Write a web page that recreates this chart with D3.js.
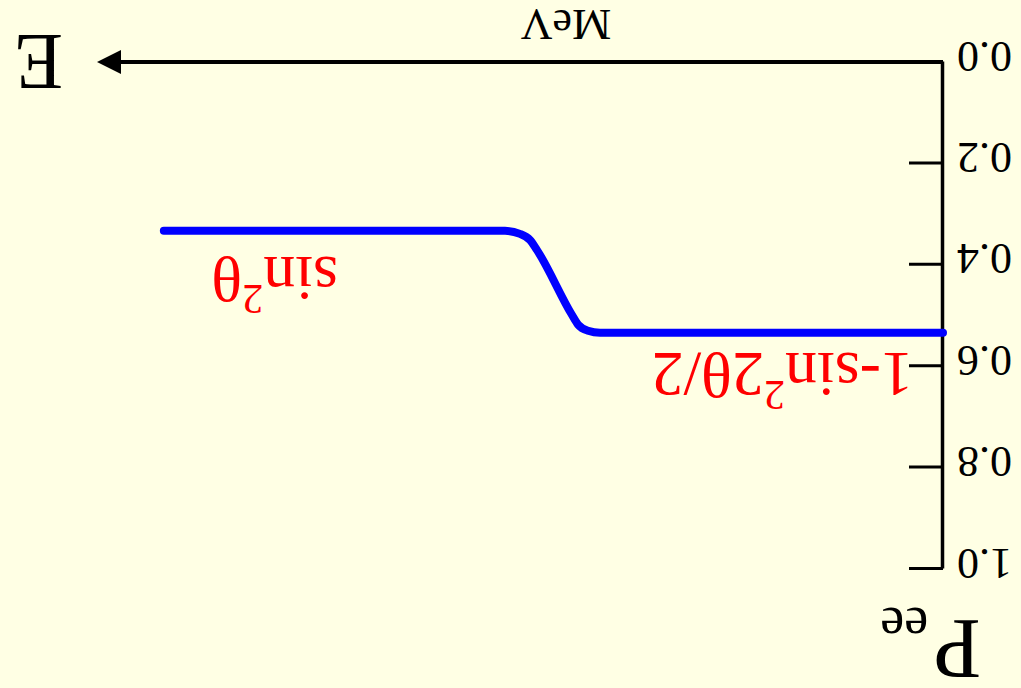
<!DOCTYPE html>
<html>
<head>
<meta charset="utf-8">
<script src="https://cdn.jsdelivr.net/npm/d3@7/dist/d3.min.js"></script>
<style>
  html, body { margin: 0; padding: 0; background: #FFFFE4; }
  svg { display: block; }
  text { font-family: "Liberation Serif", "Times New Roman", serif; }
</style>
</head>
<body>
<script>
// Survival probability of electron neutrinos vs energy (MSW transition)
const energies = [0, 4.054, 4.196, 4.314, 4.385, 4.799, 4.882, 5.0, 5.177, 9.21];      // MeV
const pee      = [0.534, 0.534, 0.530, 0.518, 0.499, 0.371, 0.351, 0.339, 0.333, 0.333];
const yTicks   = [0, 0.2, 0.4, 0.6, 0.8, 1.0];
const tickLabels = ["0.0", "0.2", "0.4", "0.6", "0.8", "1.0"];

const W = 1021, H = 688;
const svg = d3.select("body").append("svg")
  .attr("width", W).attr("height", H);

svg.append("rect").attr("width", W).attr("height", H).attr("fill", "#FFFFE4");

// whole figure is shown turned half a revolution
const g = svg.append("g").attr("transform", `rotate(180, ${W / 2}, ${H / 2})`);

const x = d3.scaleLinear().domain([0, 10]).range([78, 924]);
const y = d3.scaleLinear().domain([0, 1]).range([626, 119]);

// vertical axis with inward ticks
const yAxis = d3.axisLeft(y)
  .tickValues(yTicks)
  .tickFormat((d, i) => tickLabels[i])
  .tickSizeInner(-34)
  .tickSizeOuter(0)
  .tickPadding(14);

const ya = g.append("g").attr("transform", `translate(${x(0)},0)`).call(yAxis);
ya.select(".domain").attr("stroke", "#000").attr("stroke-width", 3.5);
ya.selectAll(".tick line").attr("stroke", "#000").attr("stroke-width", 3);
ya.selectAll(".tick text")
  .attr("font-family", "Liberation Serif, serif")
  .attr("font-size", 44)
  .attr("fill", "#000")
  .attr("dy", 20);

// energy axis with arrow head
const xEnd = x.range()[1];
g.append("line")
  .attr("x1", x(0)).attr("x2", xEnd - 22)
  .attr("y1", y(0)).attr("y2", y(0))
  .attr("stroke", "#000").attr("stroke-width", 4);
g.append("path")
  .attr("d", `M${xEnd},${y(0)} L${xEnd - 24},${y(0) - 12} L${xEnd - 24},${y(0) + 12} Z`)
  .attr("fill", "#000");

g.append("text")
  .attr("x", 958).attr("y", 653)
  .attr("font-size", 80).attr("fill", "#000")
  .text("E");

g.append("text")
  .attr("x", 455).attr("y", 678)
  .attr("text-anchor", "middle")
  .attr("font-size", 44).attr("fill", "#000")
  .text("MeV");

// axis title P_ee
const pt = g.append("text").attr("x", 40).attr("y", 68).attr("fill", "#000");
pt.append("tspan").attr("font-size", 86).text("P");
pt.append("tspan").attr("font-size", 54).attr("dy", 12).attr("dx", 5).text("ee");

// curve
const line = d3.line()
  .x((d, i) => x(energies[i]))
  .y(d => y(d))
  .curve(d3.curveMonotoneX);

g.append("path")
  .datum(pee)
  .attr("d", line)
  .attr("fill", "none")
  .attr("stroke", "#0000FF")
  .attr("stroke-width", 8)
  .attr("stroke-linecap", "round")
  .attr("stroke-linejoin", "round");

// asymptote labels
const lowLab = g.append("text").attr("x", 108).attr("y", 335)
  .attr("font-size", 64).attr("fill", "#FF0000");
lowLab.append("tspan").text("1-sin");
lowLab.append("tspan").attr("font-size", 42).attr("dy", -28).text("2");
lowLab.append("tspan").attr("dy", 28).text("2θ/2");

const highLab = g.append("text").attr("x", 683).attr("y", 431)
  .attr("font-size", 64).attr("fill", "#FF0000");
highLab.append("tspan").text("sin");
highLab.append("tspan").attr("font-size", 42).attr("dy", -28).text("2");
highLab.append("tspan").attr("dy", 28).text("θ");
</script>
</body>
</html>
